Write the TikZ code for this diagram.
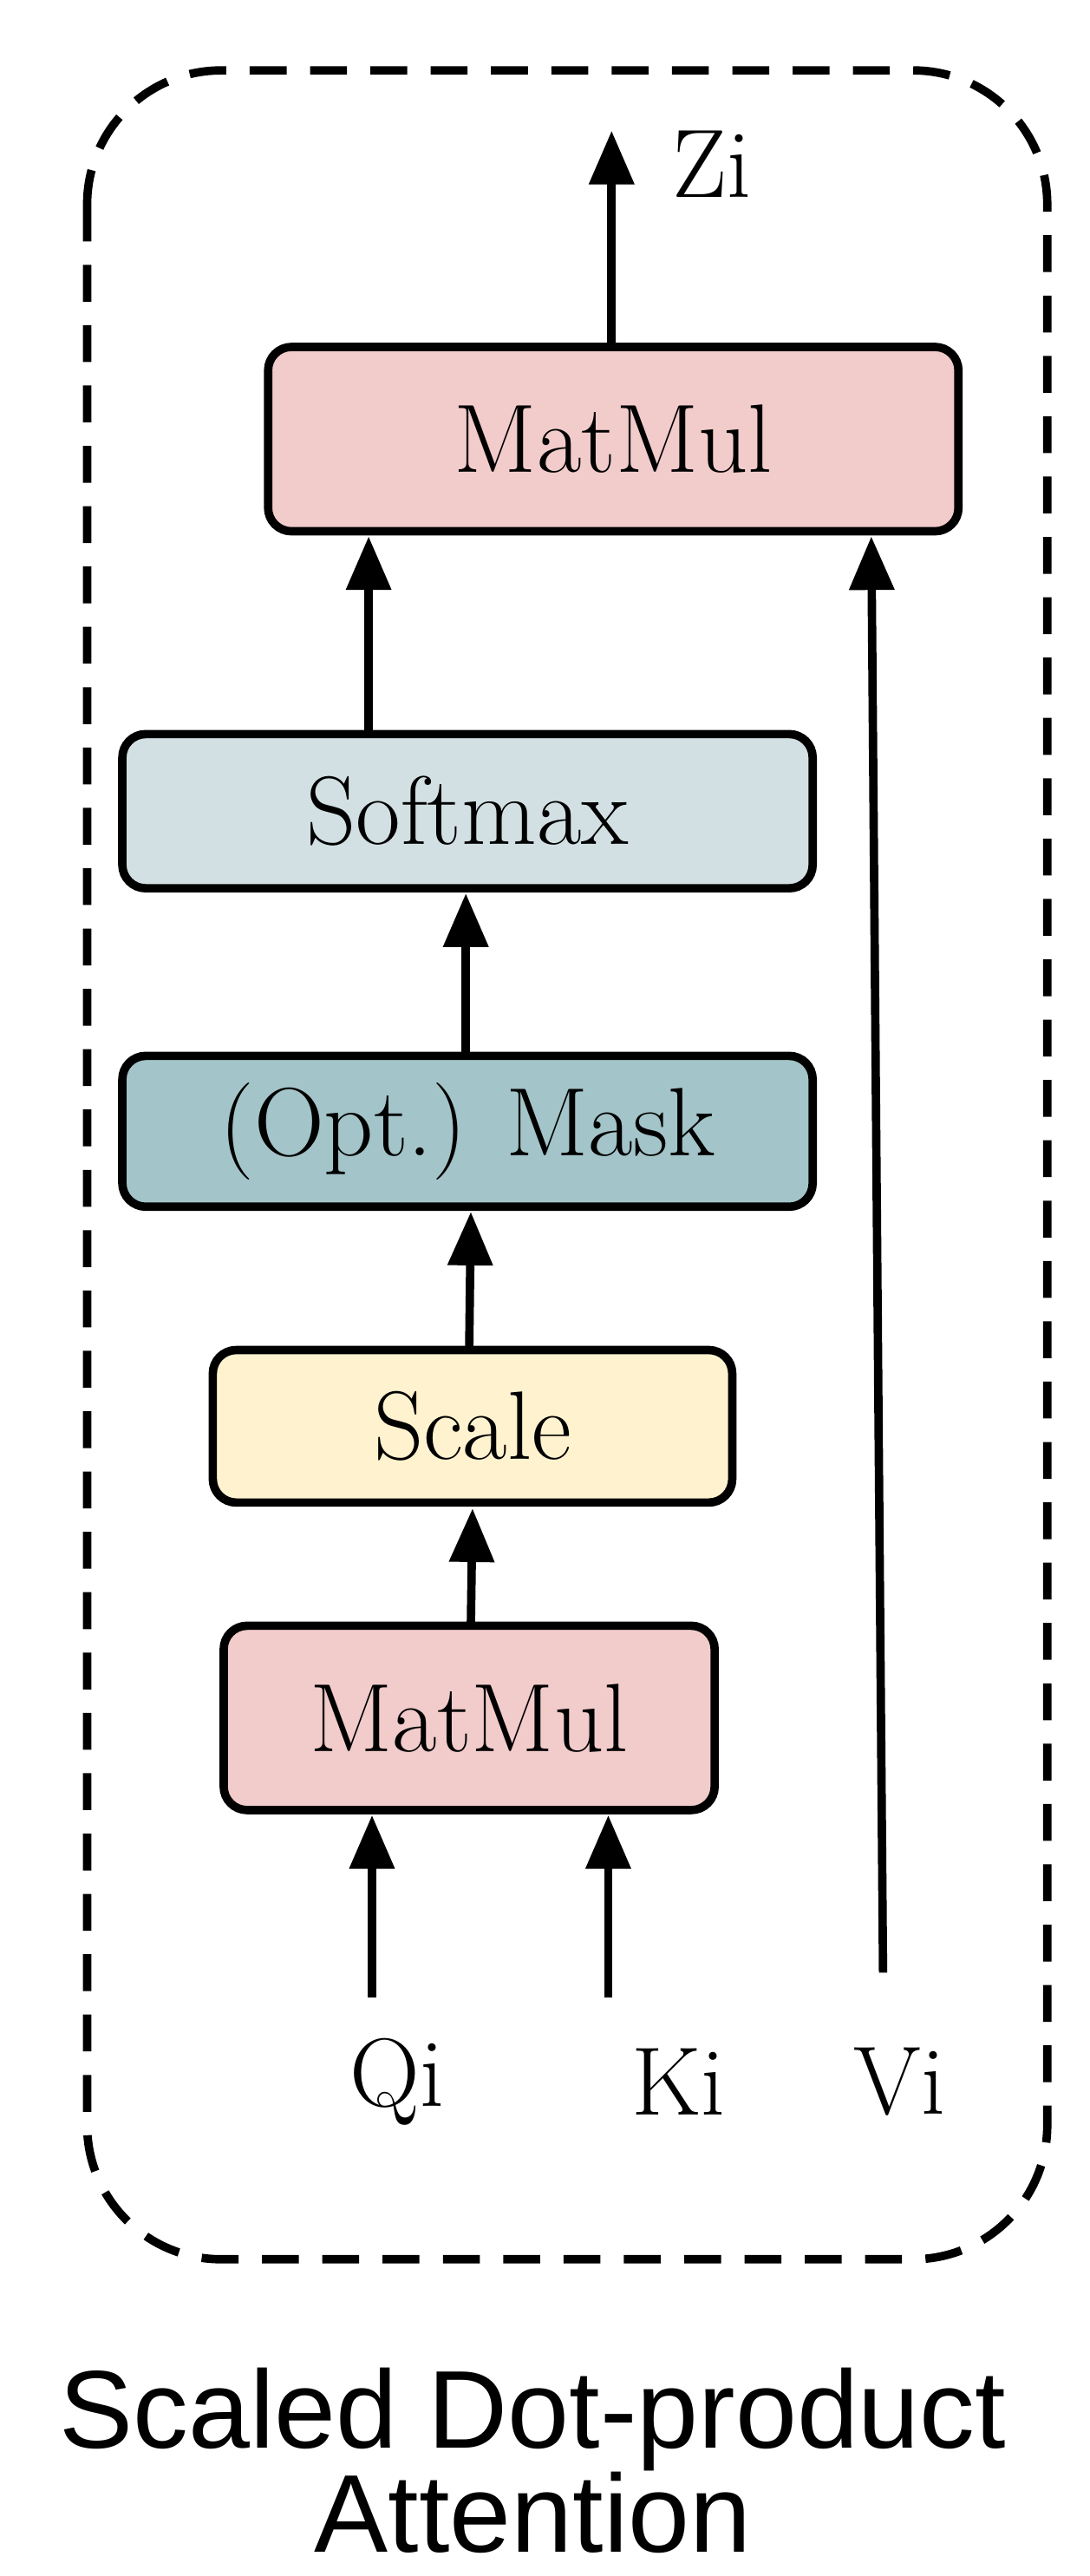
\documentclass[tikz,border=0pt]{standalone}
\usepackage{fontspec}
\newfontfamily\capfont{Liberation Sans}
\usetikzlibrary{arrows.meta}
\definecolor{cpink}{HTML}{F2CBCB}
\definecolor{csoft}{HTML}{D2E0E3}
\definecolor{cmask}{HTML}{A3C4C8}
\definecolor{cscale}{HTML}{FFF2CF}
\begin{document}
\begin{tikzpicture}[x=1pt,y=-1pt,
  blk/.style={draw,line width=5pt,rounded corners=14pt,inner sep=0pt},
  arr/.style={line width=5pt,-{Triangle[length=32pt,width=26pt]}},
  txt/.style={font=\fontsize{58}{66}\selectfont}]
\useasboundingbox (0,0) rectangle (650,1537);
\draw[line width=5pt,dash pattern=on 22pt off 14pt,rounded corners=80pt] (52,42) rectangle (625,1348);
\node[blk,fill=cpink,minimum width=412pt,minimum height=110pt,txt] (mm2) at (366,262) {MatMul};
\node[blk,fill=csoft,minimum width=412pt,minimum height=92pt,txt] (sm) at (279,484) {Softmax};
\node[blk,fill=cmask,minimum width=412pt,minimum height=90pt,txt] (mk) at (279,675) {(Opt.) Mask};
\node[blk,fill=cscale,minimum width=310pt,minimum height=91pt,txt] (sc) at (282,851) {Scale};
\node[blk,fill=cpink,minimum width=293pt,minimum height=110pt,txt] (mm1) at (280,1025) {MatMul};
\node[txt] (q) at (237,1242) {Qi};
\node[txt] (k) at (405,1242) {Ki};
\node[txt] (v) at (537,1242) {Vi};
\node[txt] (z) at (425,98) {Zi};
\coordinate (qs) at (222,1192);
\coordinate (ks) at (363,1192);
\coordinate (vs) at (527,1177);
\coordinate (zt) at (365,78);
\draw[arr] (qs) -- (222,1083);
\draw[arr] (ks) -- (363,1083);
\draw[arr] (vs) -- (520,320);
\draw[arr] (220,438) -- (220,320);
\draw[arr] (278,630) -- (278,533);
\draw[arr] (280,806) -- (281,723);
\draw[arr] (281,970) -- (282,900);
\draw[arr] (365,207) -- (zt);
\node[font=\capfont\fontsize{66}{62}\selectfont,align=center] (cap) at (318,1468) {Scaled Dot-product\\Attention};
\end{tikzpicture}
\end{document}
